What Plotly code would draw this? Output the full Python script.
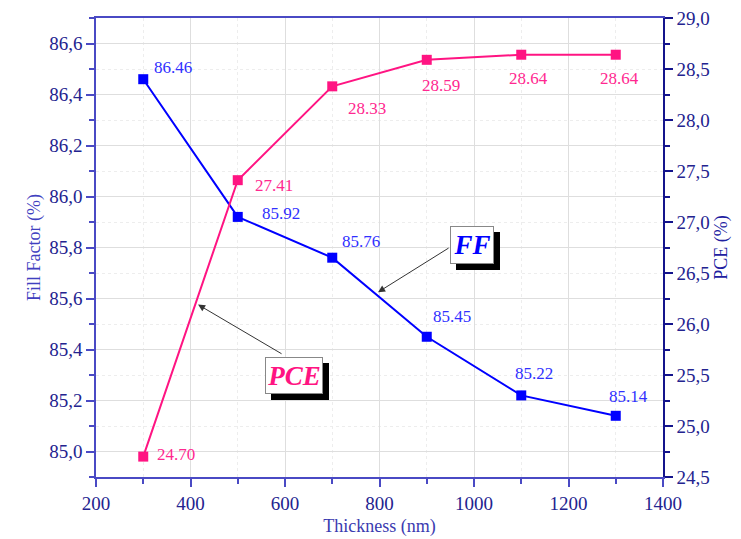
import plotly.graph_objects as go

thickness = [300, 500, 700, 900, 1100, 1300]
ff = [86.46, 85.92, 85.76, 85.45, 85.22, 85.14]
pce = [24.70, 27.41, 28.33, 28.59, 28.64, 28.64]
ff_labels = ["86.46", "85.92", "85.76", "85.45", "85.22", "85.14"]
pce_labels = ["24.70", "27.41", "28.33", "28.59", "28.64", "28.64"]

# label pixel offsets (style)
ff_off = [(30, 12), (43, 3), (29, 16), (25, 20), (13, 22), (13, 19)]
pce_off = [(33, 2), (36, -5), (35, -22), (14, -26), (7, -24), (4, -24)]

BLUE = "#0000ff"
PINK = "#ff1482"
FONT = "Liberation Serif"
AX_L = "#4a4ac4"
AX_R = "#14148c"
TICKC = "#23238f"

fig = go.Figure()
fig.add_trace(go.Scatter(x=thickness, y=ff, mode="lines+markers", yaxis="y",
                         line=dict(color=BLUE, width=2),
                         marker=dict(symbol="square", size=10, color=BLUE),
                         showlegend=False))
fig.add_trace(go.Scatter(x=thickness, y=pce, mode="lines+markers", yaxis="y2",
                         line=dict(color=PINK, width=2),
                         marker=dict(symbol="square", size=10, color=PINK),
                         showlegend=False))

ann = []
for x, y, t, (dx, dy) in zip(thickness, ff, ff_labels, ff_off):
    ann.append(dict(x=x, y=y, xref="x", yref="y", text=t, showarrow=False,
                    xshift=dx, yshift=dy, font=dict(family=FONT, size=17, color="#3030ff")))
for x, y, t, (dx, dy) in zip(thickness, pce, pce_labels, pce_off):
    ann.append(dict(x=x, y=y, xref="x", yref="y2", text=t, showarrow=False,
                    xshift=dx, yshift=dy, font=dict(family=FONT, size=17, color="#ff2890")))

# arrows
ann.append(dict(x=797, y=85.625, xref="x", yref="y", ax=72, ay=-45, text="",
                showarrow=True, arrowhead=2, arrowsize=1.4, arrowwidth=1, arrowcolor="#333333"))
ann.append(dict(x=416, y=26.19, xref="x", yref="y2", ax=85, ay=50, text="",
                showarrow=True, arrowhead=2, arrowsize=1.4, arrowwidth=1, arrowcolor="#333333"))

# labelled boxes with shadows
def box(x, y, yref, text, color, w, h):
    return [
        dict(x=x, y=y, xref="x", yref=yref, text=" ", showarrow=False, bgcolor="black",
             width=w, height=h, borderpad=0, borderwidth=1, bordercolor="black",
             xshift=6, yshift=-6),
        dict(x=x, y=y, xref="x", yref=yref, text="<b><i>%s</i></b>" % text, showarrow=False,
             bgcolor="white", width=w, height=h, borderpad=0, borderwidth=1, bordercolor="#888888",
             font=dict(family=FONT, size=27, color=color)),
    ]

ann += box(995, 85.81, "y", "FF", BLUE, 42, 36)
ann += box(618, 25.50, "y2", "PCE", PINK, 56, 35)

fig.update_layout(
    width=741, height=539,
    margin=dict(l=88, r=86, t=10, b=70),
    plot_bgcolor="white", paper_bgcolor="white",
    separators=",.",
    font=dict(family=FONT, size=19, color=TICKC),
    annotations=ann,
    xaxis=dict(range=[200, 1400], dtick=200, tick0=200, showline=True, linecolor=AX_L, linewidth=1.5,
               mirror=True, ticks="outside", ticklen=8, tickcolor=AX_L, tickwidth=1.5,
               showgrid=True, gridcolor="#dedede", gridwidth=1, zeroline=False, automargin=False,
               ticklabeloverflow="allow",
               minor=dict(dtick=100, ticks="outside", ticklen=5, tickcolor=AX_L,
                          showgrid=True, gridcolor="#ededed", griddash="dot"),
               title=dict(text="Thickness (nm)", font=dict(family=FONT, size=18, color="#3a3ab0"),
                          standoff=7),
               tickfont=dict(family=FONT, size=19, color=TICKC)),
    yaxis=dict(range=[84.9, 86.7], dtick=0.2, tick0=85.0, tickformat=".1f",
               showline=True, linecolor=AX_L, linewidth=1.5, automargin=False,
               ticklabeloverflow="allow",
               ticks="outside", ticklen=8, tickcolor=AX_L, tickwidth=1.5,
               showgrid=True, gridcolor="#dedede", gridwidth=1, zeroline=False,
               minor=dict(dtick=0.1, ticks="outside", ticklen=5, tickcolor=AX_L,
                          showgrid=True, gridcolor="#ededed", griddash="dot"),
               title=dict(text="Fill Factor (%)", font=dict(family=FONT, size=18, color="#4040c0"),
                          standoff=4),
               tickfont=dict(family=FONT, size=19, color=TICKC)),
    yaxis2=dict(range=[24.5, 29.0], dtick=0.5, tick0=24.5, tickformat=".1f", overlaying="y",
                side="right", showline=True, linecolor=AX_R, linewidth=1.5, automargin=False,
                ticklabeloverflow="allow",
                ticks="outside", ticklen=8, tickcolor=AX_R, tickwidth=1.5,
                showgrid=False, zeroline=False,
                minor=dict(dtick=0.25, ticks="outside", ticklen=5, tickcolor=AX_R),
                title=dict(text="PCE (%)", font=dict(family=FONT, size=18, color="#2020a0"),
                           standoff=6),
                tickfont=dict(family=FONT, size=19, color=TICKC)),
)

fig.write_html("out.html")
